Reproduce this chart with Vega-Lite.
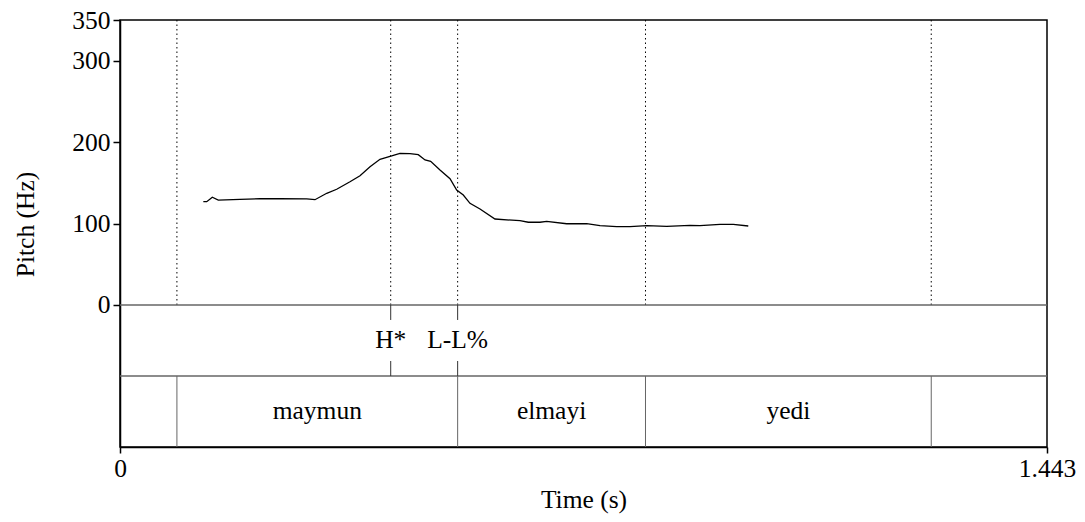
{
  "$schema": "https://vega.github.io/schema/vega-lite/v6.json",
  "width": 927,
  "height": 427,
  "autosize": "none",
  "padding": {"left": 120, "top": 20, "right": 38, "bottom": 75},
  "background": "white",
  "config": {
    "view": {"stroke": "#000", "strokeWidth": 1.5},
    "font": "Liberation Serif, Times New Roman, serif",
    "axis": {
      "grid": false,
      "labelFont": "Liberation Serif, Times New Roman, serif",
      "titleFont": "Liberation Serif, Times New Roman, serif",
      "labelFontSize": 25.5,
      "titleFontSize": 25.5,
      "labelColor": "#000",
      "titleColor": "#000",
      "titleFontWeight": "normal",
      "domainColor": "#000",
      "domainWidth": 1.5,
      "tickColor": "#000",
      "tickWidth": 1.5,
      "tickSize": 7
    }
  },
  "datasets": {
    "pitch": [
      {"t": 0.1297, "f0": 126.9}, {"t": 0.1350, "f0": 126.9}, {"t": 0.1437, "f0": 132.3},
      {"t": 0.1530, "f0": 128.9}, {"t": 0.1868, "f0": 129.8}, {"t": 0.2179, "f0": 130.5},
      {"t": 0.2491, "f0": 130.5}, {"t": 0.2906, "f0": 130.2}, {"t": 0.3035, "f0": 129.3},
      {"t": 0.3218, "f0": 137.2}, {"t": 0.3373, "f0": 142.1}, {"t": 0.3580, "f0": 151.4},
      {"t": 0.3736, "f0": 158.8}, {"t": 0.3892, "f0": 169.8}, {"t": 0.4047, "f0": 178.9},
      {"t": 0.4229, "f0": 183.0}, {"t": 0.4358, "f0": 186.3}, {"t": 0.4514, "f0": 185.8},
      {"t": 0.4643, "f0": 184.6}, {"t": 0.4748, "f0": 178.1}, {"t": 0.4836, "f0": 176.5},
      {"t": 0.4981, "f0": 165.8}, {"t": 0.5137, "f0": 155.1}, {"t": 0.5241, "f0": 141.2},
      {"t": 0.5344, "f0": 135.1}, {"t": 0.5448, "f0": 124.9}, {"t": 0.5604, "f0": 117.9},
      {"t": 0.5837, "f0": 105.6}, {"t": 0.6226, "f0": 103.5}, {"t": 0.6356, "f0": 101.6},
      {"t": 0.6538, "f0": 101.6}, {"t": 0.6642, "f0": 102.8}, {"t": 0.6953, "f0": 99.8},
      {"t": 0.7265, "f0": 99.8}, {"t": 0.7472, "f0": 97.4}, {"t": 0.7731, "f0": 96.2},
      {"t": 0.7939, "f0": 96.2}, {"t": 0.8199, "f0": 97.4}, {"t": 0.8510, "f0": 96.6},
      {"t": 0.8873, "f0": 97.9}, {"t": 0.9028, "f0": 97.4}, {"t": 0.9340, "f0": 99.1},
      {"t": 0.9547, "f0": 99.1}, {"t": 0.9780, "f0": 97.0}
    ],
    "marks": [
      {"t": 0.0886}, {"t": 0.4214}, {"t": 0.5256}, {"t": 0.8180}, {"t": 1.2628}
    ],
    "bounds": [
      {"t": 0.0886}, {"t": 0.5256}, {"t": 0.8180}, {"t": 1.2628}
    ],
    "tones": [
      {"t": 0.4214, "label": "H*"}, {"t": 0.5256, "label": "L-L%"}
    ],
    "words": [
      {"t": 0.3071, "label": "maymun"}, {"t": 0.6718, "label": "elmayi"}, {"t": 1.0404, "label": "yedi"}
    ]
  },
  "layer": [
    {
      "data": {"name": "marks"},
      "mark": {"type": "rule", "color": "#000", "strokeWidth": 1, "strokeDash": [1.5, 3]},
      "encoding": {
        "x": {"field": "t", "type": "quantitative", "scale": {"domain": [0, 1.443], "nice": false, "zero": false},
              "axis": {"values": [0, 1.443], "labelExpr": "datum.value == 0 ? '0' : '1.443'", "labelFlush": false, "title": "Time (s)", "labelPadding": 3, "titlePadding": 6, "tickSize": 6}},
        "y": {"datum": 0, "type": "quantitative", "scale": {"domain": [-174.4, 350], "nice": false, "zero": false},
              "axis": {"values": [0, 100, 200, 300, 350], "title": "Pitch (Hz)", "labelPadding": 3, "titlePadding": 33, "titleY": 204, "labelFlush": false}},
        "y2": {"datum": 350}
      }
    },
    {
      "data": {"values": [{"y": 0}, {"y": -87.2}]},
      "mark": {"type": "rule", "color": "#666", "strokeWidth": 1.5},
      "encoding": {"y": {"field": "y", "type": "quantitative"}}
    },
    {
      "data": {"name": "bounds"},
      "mark": {"type": "rule", "color": "#666", "strokeWidth": 1},
      "encoding": {
        "x": {"field": "t", "type": "quantitative"},
        "y": {"datum": -87.2},
        "y2": {"datum": -174.4}
      }
    },
    {
      "data": {"name": "tones"},
      "mark": {"type": "rule", "color": "#333", "strokeWidth": 1},
      "encoding": {
        "x": {"field": "t", "type": "quantitative"},
        "y": {"datum": 0},
        "y2": {"datum": -18.4}
      }
    },
    {
      "data": {"name": "tones"},
      "mark": {"type": "rule", "color": "#333", "strokeWidth": 1},
      "encoding": {
        "x": {"field": "t", "type": "quantitative"},
        "y": {"datum": -68.8},
        "y2": {"datum": -87.2}
      }
    },
    {
      "data": {"name": "pitch"},
      "mark": {"type": "line", "color": "#000", "strokeWidth": 1.3, "interpolate": "linear"},
      "encoding": {
        "x": {"field": "t", "type": "quantitative"},
        "y": {"field": "f0", "type": "quantitative"}
      }
    },
    {
      "data": {"name": "tones"},
      "mark": {"type": "text", "font": "Liberation Serif, Times New Roman, serif", "fontSize": 25.5, "color": "#000", "baseline": "middle", "align": "center"},
      "encoding": {
        "x": {"field": "t", "type": "quantitative"},
        "y": {"datum": -43.6},
        "text": {"field": "label"}
      }
    },
    {
      "data": {"name": "words"},
      "mark": {"type": "text", "font": "Liberation Serif, Times New Roman, serif", "fontSize": 25.5, "color": "#000", "baseline": "middle", "align": "center"},
      "encoding": {
        "x": {"field": "t", "type": "quantitative"},
        "y": {"datum": -130.8},
        "text": {"field": "label"}
      }
    }
  ]
}
